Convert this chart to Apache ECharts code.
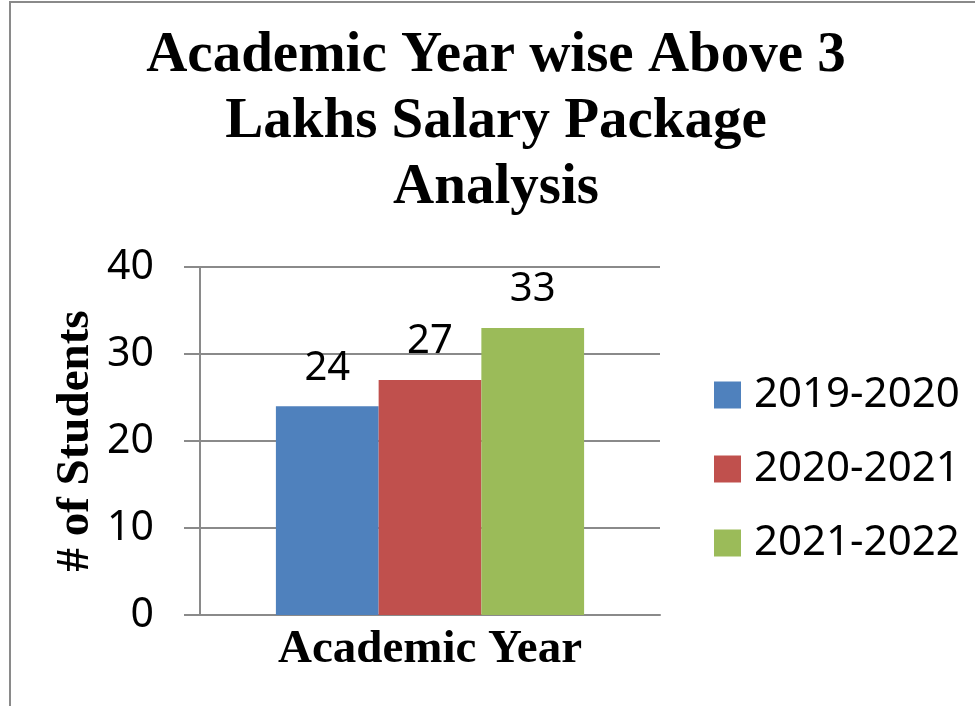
<!DOCTYPE html>
<html>
<head>
<meta charset="utf-8">
<script src="https://cdn.jsdelivr.net/npm/echarts@6/dist/echarts.min.js"></script>
<style>
  html, body { margin: 0; padding: 0; background: #fff; }
  #chart { width: 975px; height: 706px; }
</style>
</head>
<body>
<div id="chart"></div>
<script>
// data
const titleText = "Academic Year wise Above 3\nLakhs Salary Package\nAnalysis";
const categories = [""];
const seriesNames = ["2019-2020", "2020-2021", "2021-2022"];
const studentCounts = [24, 27, 33];
const seriesColors = ["#4F81BD", "#C0504D", "#9BBB59"];
const yTicks = [0, 10, 20, 30, 40];

const serif = "Liberation Serif";
const sans = "Noto Sans";
const gray = "#8a8a8a";

const chart = echarts.init(document.getElementById("chart"));

chart.setOption({
  animation: false,
  title: {
    text: titleText,
    left: 496,
    textAlign: "center",
    top: 23,
    padding: 0,
    textStyle: {
      fontFamily: serif,
      fontWeight: "bold",
      fontSize: 57,
      lineHeight: 66,
      color: "#000"
    }
  },
  legend: {
    orient: "vertical",
    left: 709,
    top: 369,
    itemWidth: 27,
    itemHeight: 27,
    itemGap: 32,
    icon: "rect",
    data: seriesNames,
    textStyle: {
      fontFamily: sans,
      fontSize: 42,
      lineHeight: 42,
      color: "#000",
      padding: [0, 0, 0, 8]
    }
  },
  grid: {
    left: 200,
    right: 315,
    top: 267,
    bottom: 91
  },
  xAxis: {
    type: "category",
    data: categories,
    name: "Academic Year",
    nameLocation: "middle",
    nameGap: 11,
    nameTextStyle: {
      fontFamily: serif,
      fontWeight: "bold",
      fontSize: 47,
      color: "#000"
    },
    axisLine: { lineStyle: { color: gray, width: 2 } },
    axisTick: { show: false },
    axisLabel: { show: false }
  },
  yAxis: {
    type: "value",
    min: yTicks[0],
    max: yTicks[yTicks.length - 1],
    interval: 10,
    name: "# of Students",
    nameLocation: "middle",
    nameGap: 101,
    nameTextStyle: {
      fontFamily: serif,
      fontWeight: "bold",
      fontSize: 47,
      color: "#000"
    },
    axisLine: { show: true, lineStyle: { color: gray, width: 2 } },
    axisTick: { show: true, length: 16, lineStyle: { color: gray, width: 2 } },
    axisLabel: {
      margin: 46,
      fontFamily: sans,
      fontSize: 41,
      color: "#000"
    },
    splitLine: { lineStyle: { color: gray, width: 2 } }
  },
  graphic: [{
    type: "rect",
    silent: true,
    shape: { x: 10, y: 2, width: 1200, height: 900 },
    style: { fill: null, stroke: gray, lineWidth: 2 }
  }],
  series: seriesNames.map((name, i) => ({
    name: name,
    type: "bar",
    data: [studentCounts[i]],
    barGap: "0%",
    barCategoryGap: "33%",
    itemStyle: { color: seriesColors[i] },
    label: {
      show: true,
      position: "top",
      distance: 18,
      fontFamily: sans,
      fontSize: 40,
      color: "#000"
    }
  }))
});
</script>
</body>
</html>
